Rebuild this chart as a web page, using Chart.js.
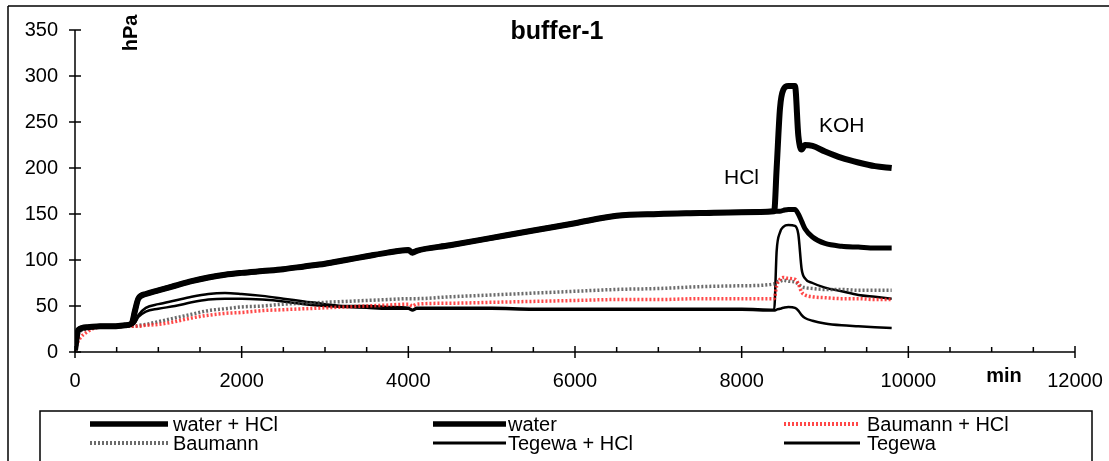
<!DOCTYPE html>
<html lang="en">
<head>
<meta charset="UTF-8">
<title>buffer-1</title>
<script src="https://cdn.jsdelivr.net/npm/chart.js"></script>
<style>
  html, body { margin: 0; padding: 0; background: #fff; }
  #wrap { width: 1109px; height: 461px; }
</style>
</head>
<body>
<div id="wrap"><canvas id="chart" width="1109" height="461"></canvas></div>
<script>
  // time axis (min) shared by all series
  const minutes = [0, 40, 150, 300, 450, 600, 680, 720, 760, 850,
    1000, 1200, 1400, 1600, 1800, 2000, 2250, 2500, 2750, 3000,
    3250, 3500, 3750, 4000, 4050, 4100, 4500, 5000, 5500, 6000,
    6500, 7000, 7500, 8000, 8390, 8420, 8460, 8500, 8560, 8640,
    8680, 8720, 8760, 8850, 9000, 9200, 9400, 9600, 9800];

  // pressure in hPa
  const waterHcl = [2, 24, 27, 28, 28, 29, 31, 45, 58, 63,
    67, 72, 77, 81, 84, 86, 88, 90, 93, 96,
    100, 104, 108, 111, 108, 110, 116, 124, 132, 140,
    148, 150, 151, 152, 153, 200, 265, 285, 289, 289,
    235, 220, 225, 224, 218, 211, 206, 202, 200];
  const water = [2, 24, 27, 28, 28, 29, 31, 45, 58, 63,
    67, 72, 77, 81, 84, 86, 88, 90, 93, 96,
    100, 104, 108, 111, 108, 110, 116, 124, 132, 140,
    148, 150, 151, 152, 153, 153, 153, 154, 155, 155,
    150, 142, 134, 125, 118, 115, 114, 113, 113];
  const baumannHcl = [2, 12, 22, 27, 27, 28, 28, 28, 28, 29,
    30, 33, 37, 40, 42, 43, 45, 46, 47, 48,
    49, 50, 51, 52, 50, 52, 53, 54, 55, 56,
    57, 57, 58, 58, 58, 72, 79, 81, 80, 79,
    74, 65, 62, 60, 59, 58, 58, 57, 57];
  const baumann = [2, 20, 25, 27, 27, 28, 28, 28, 29, 30,
    33, 37, 41, 45, 47, 49, 50, 52, 53, 54,
    55, 56, 57, 58, 58, 58, 60, 62, 64, 66,
    68, 69, 71, 72, 74, 76, 77, 78, 77, 76,
    74, 71, 70, 69, 68, 68, 67, 67, 67];
  const tegewaHcl = [2, 24, 27, 28, 27, 28, 29, 32, 40, 48,
    52, 56, 60, 63, 64, 63, 61, 58, 55, 52,
    50, 50, 49, 48, 46, 48, 48, 48, 47, 47,
    47, 47, 47, 47, 46, 110, 130, 136, 138, 137,
    128, 90, 80, 75, 70, 66, 62, 60, 58];
  const tegewa = [2, 24, 27, 28, 27, 28, 29, 32, 38, 44,
    47, 50, 54, 57, 58, 58, 57, 55, 52, 50,
    49, 48, 47, 47, 45, 47, 47, 47, 46, 46,
    46, 46, 46, 46, 45, 46, 47, 48, 49, 48,
    45, 40, 37, 34, 31, 29, 28, 27, 26];

  const seriesNames = ['water + HCl', 'water', 'Baumann + HCl', 'Baumann', 'Tegewa + HCl', 'Tegewa'];
  const seriesValues = [waterHcl, water, baumannHcl, baumann, tegewaHcl, tegewa];

  const styles = [
    { color: '#000', width: 6, dash: [] },
    { color: '#000', width: 5, dash: [] },
    { color: 'rgba(255,40,40,0.85)', width: 3.5, dash: [2, 2] },
    { color: 'rgba(70,70,70,0.8)', width: 3.5, dash: [2, 2] },
    { color: '#000', width: 2.5, dash: [] },
    { color: '#000', width: 2.5, dash: [] }
  ];

  const FONT = '"Liberation Sans", Arial, sans-serif';

  const datasets = seriesNames.map((name, i) => ({
    label: name,
    data: minutes.map((m, k) => ({ x: m, y: seriesValues[i][k] })),
    borderColor: styles[i].color,
    borderWidth: styles[i].width,
    borderDash: styles[i].dash,
    pointRadius: 0,
    fill: false,
    cubicInterpolationMode: 'monotone'
  }));

  function line(ctx, x1, y1, x2, y2) {
    ctx.beginPath();
    ctx.moveTo(x1, y1);
    ctx.lineTo(x2, y2);
    ctx.stroke();
  }

  // axes, ticks, texts, legend box and frame
  const extras = {
    id: 'extras',
    afterDraw(chart) {
      const ctx = chart.ctx;
      const a = chart.chartArea;
      const xs = chart.scales.x, ys = chart.scales.y;
      ctx.save();
      ctx.strokeStyle = '#000';
      ctx.fillStyle = '#000';
      ctx.setLineDash([]);
      ctx.lineWidth = 1.5;

      // outer frame (continues past the picture)
      line(ctx, 8, 6, 1109, 6);
      line(ctx, 8, 6, 8, 461);

      // axis lines
      line(ctx, a.left, a.top, a.left, a.bottom);
      line(ctx, a.left, a.bottom, a.right, a.bottom);

      ys.ticks.forEach(t => {
        const y = ys.getPixelForValue(t.value);
        line(ctx, a.left - 6, y, a.left + 6, y);
      });
      xs.ticks.forEach(t => {
        const x = xs.getPixelForValue(t.value);
        line(ctx, x, a.bottom - 6, x, a.bottom + 6);
      });
      for (let v = xs.min + 500; v < xs.max; v += 1000) {
        const x = xs.getPixelForValue(v);
        line(ctx, x, a.bottom - 5, x, a.bottom);
      }
      for (let v = xs.min + 1000; v < xs.max; v += 2000) {
        const x = xs.getPixelForValue(v);
        line(ctx, x, a.bottom - 5, x, a.bottom);
      }

      // title
      ctx.font = 'bold 25px ' + FONT;
      ctx.textAlign = 'center';
      ctx.textBaseline = 'alphabetic';
      ctx.fillText('buffer-1', 557, 39);

      // axis titles
      ctx.font = 'bold 20px ' + FONT;
      ctx.fillText('min', 1004, 382);
      ctx.save();
      ctx.translate(137, 33);
      ctx.rotate(-Math.PI / 2);
      ctx.fillText('hPa', 0, 0);
      ctx.restore();

      // annotations
      ctx.font = '21px ' + FONT;
      ctx.textAlign = 'left';
      ctx.fillText('HCl', 724, 184);
      ctx.fillText('KOH', 819, 132);

      // legend
      ctx.lineWidth = 1.5;
      ctx.strokeRect(40, 411, 1052, 80);
      const cols = [[90, 168, 173], [433, 506, 508], [784, 860, 867]];
      const rows = [[424, 431], [443, 450]];
      ctx.font = '20px ' + FONT;
      chart.data.datasets.forEach((ds, i) => {
        const c = cols[i % 3], r = rows[Math.floor(i / 3)];
        ctx.strokeStyle = ds.borderColor;
        ctx.lineWidth = Math.min(ds.borderWidth, 5) + 0.5;
        ctx.setLineDash(ds.borderDash);
        line(ctx, c[0], r[0], c[1], r[0]);
        ctx.setLineDash([]);
        ctx.fillText(ds.label, c[2], r[1]);
      });
      ctx.restore();
    }
  };

  new Chart(document.getElementById('chart').getContext('2d'), {
    type: 'line',
    data: { datasets },
    options: {
      responsive: false,
      animation: false,
      devicePixelRatio: 1,
      layout: { padding: { left: 0, right: 34, top: 30, bottom: 0 } },
      plugins: {
        legend: { display: false },
        title: { display: false },
        tooltip: { enabled: false }
      },
      scales: {
        x: {
          type: 'linear',
          min: 0,
          max: 12000,
          ticks: {
            stepSize: 2000,
            padding: 17,
            color: '#000',
            font: { family: FONT, size: 20 },
            callback: v => String(v),
            maxRotation: 0
          },
          grid: { display: false, drawTicks: false },
          border: { display: false },
          afterFit: s => { s.height = 109; s.paddingLeft = 0; s.paddingRight = 0; }
        },
        y: {
          min: 0,
          max: 350,
          ticks: {
            stepSize: 50,
            padding: 17,
            color: '#000',
            font: { family: FONT, size: 20 },
            callback: v => String(v)
          },
          grid: { display: false, drawTicks: false },
          border: { display: false },
          afterFit: s => { s.width = 75; s.paddingTop = 0; s.paddingBottom = 0; }
        }
      }
    },
    plugins: [extras]
  });
</script>
</body>
</html>
